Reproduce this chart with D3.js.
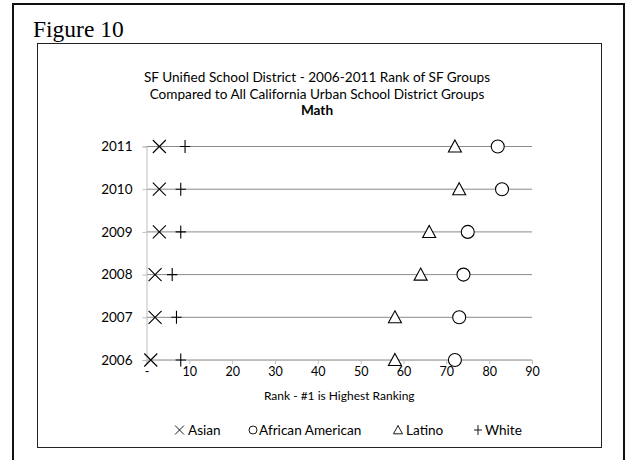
<!DOCTYPE html>
<html>
<head>
<meta charset="utf-8">
<script src="https://cdn.jsdelivr.net/npm/d3@7"></script>
<style>
  body { margin: 0; background: #fff; }
  svg text { font-family: Lato, "Open Sans", sans-serif; fill: #000; }
</style>
</head>
<body>
<svg id="chart" width="632" height="460"></svg>
<script>
// data - rank of each SF group per year
const years = [2006, 2007, 2008, 2009, 2010, 2011];
const asian = [1, 2, 2, 3, 3, 3];
const africanAmerican = [72, 73, 74, 75, 83, 82];
const latino = [58, 58, 64, 66, 73, 72];
const white = [8, 7, 6, 8, 8, 9];
const xTicks = [0, 10, 20, 30, 40, 50, 60, 70, 80, 90];

const series = [
  { name: "Asian", values: asian, shape: "x" },
  { name: "African American", values: africanAmerican, shape: "circle" },
  { name: "Latino", values: latino, shape: "triangle" },
  { name: "White", values: white, shape: "plus" }
];

const svg = d3.select("#chart");

// outer frame + figure caption
svg.append("rect")
  .attr("x", 13).attr("y", 4)
  .attr("width", 611).attr("height", 470)
  .attr("fill", "none").attr("stroke", "#111").attr("stroke-width", 2);

svg.append("text")
  .attr("x", 33).attr("y", 37)
  .style("font-family", "'Liberation Serif', 'Times New Roman', serif")
  .style("font-size", "23.5px")
  .text("Figure 10");

// inner chart box
svg.append("rect")
  .attr("x", 37.5).attr("y", 43.5)
  .attr("width", 564).attr("height", 404)
  .attr("fill", "#fff").attr("stroke", "#222").attr("stroke-width", 1);

// titles
const titleLines = [
  { t: "SF Unified School District - 2006-2011 Rank of SF Groups", bold: false },
  { t: "Compared to All California Urban School District Groups", bold: false },
  { t: "Math", bold: true }
];
svg.append("g").selectAll("text")
  .data(titleLines)
  .enter().append("text")
  .attr("x", 317)
  .attr("y", (d, i) => 82 + i * 16.5)
  .attr("text-anchor", "middle")
  .style("font-size", "13.6px")
  .style("font-weight", d => d.bold ? "bold" : "normal")
  .text(d => d.t);

const x = d3.scaleLinear().domain([0, 90]).range([146.5, 532]);
const y = d3.scaleLinear().domain([2006, 2011]).range([360, 146.5]);

// row lines
svg.append("g").selectAll("line")
  .data(years)
  .enter().append("line")
  .attr("x1", x(0)).attr("x2", x(90))
  .attr("y1", d => y(d)).attr("y2", d => y(d))
  .attr("stroke", "#8a8a8a").attr("stroke-width", 1);

// x axis
const xAxis = svg.append("g")
  .attr("transform", `translate(0,${y(2006)})`)
  .call(d3.axisBottom(x).tickValues(xTicks).tickSize(4).tickPadding(3)
    .tickFormat(d => d === 0 ? "-" : d));
xAxis.select(".domain").attr("stroke", "#bdbdbd");
xAxis.selectAll(".tick line").attr("stroke", "#bdbdbd");
xAxis.selectAll("text").style("font-size", "12.5px");

// y axis
const yAxis = svg.append("g")
  .attr("transform", `translate(${x(0)},0)`)
  .call(d3.axisLeft(y).tickValues(years).tickSize(4).tickPadding(10)
    .tickFormat(d => d));
yAxis.select(".domain").attr("stroke", "#bdbdbd");
yAxis.selectAll(".tick line").attr("stroke", "#bdbdbd");
yAxis.selectAll("text").style("font-size", "13.5px");

svg.append("text")
  .attr("x", (x(0) + x(90)) / 2).attr("y", 400)
  .attr("text-anchor", "middle")
  .style("font-size", "12px")
  .text("Rank - #1 is Highest Ranking");

// marker paths
function markerPath(shape, s) {
  const h = s / 2;
  if (shape === "x") return `M${-h},${-h}L${h},${h}M${-h},${h}L${h},${-h}`;
  if (shape === "plus") return `M${-h * 0.8},0L${h * 0.8},0M0,${-h}L0,${h}`;
  if (shape === "triangle") return `M0,${-h}L${h},${h * 0.85}L${-h},${h * 0.85}Z`;
  return d3.symbol().type(d3.symbolCircle).size(Math.PI * h * h)();
}

series.forEach(s => {
  svg.append("g").selectAll("path")
    .data(s.values.map((v, i) => ({ v, year: years[i] })))
    .enter().append("path")
    .attr("transform", d => `translate(${x(d.v)},${y(d.year)})`)
    .attr("d", markerPath(s.shape, 13))
    .attr("fill", s.shape === "circle" || s.shape === "triangle" ? "#fff" : "none")
    .attr("stroke", "#000").attr("stroke-width", 1.1);
});

// legend
const legendSym = [179.5, 253, 398, 478];
const legendText = [188, 259, 406, 485];
const legendSize = [9, 8, 9, 10];
const legend = svg.append("g").selectAll("g")
  .data(series)
  .enter().append("g");
legend.append("path")
  .attr("transform", (d, i) => `translate(${legendSym[i]},430)`)
  .attr("d", (d, i) => markerPath(d.shape, legendSize[i]))
  .attr("fill", "none").attr("stroke", "#000").attr("stroke-width", 0.9);
legend.append("text")
  .attr("x", (d, i) => legendText[i]).attr("y", 434.5)
  .style("font-size", "13.6px")
  .text(d => d.name);
</script>
</body>
</html>
